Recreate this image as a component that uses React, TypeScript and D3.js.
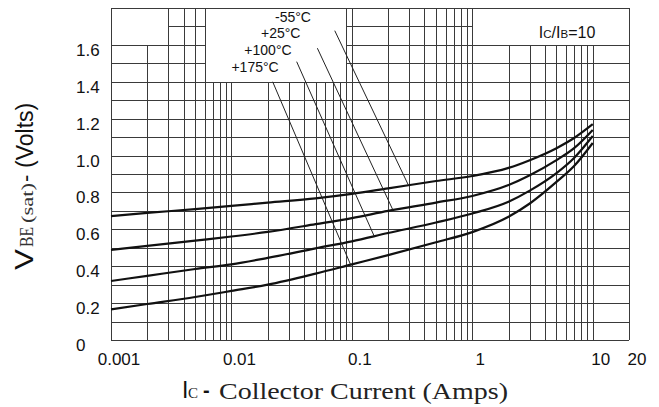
import React from "react";
import * as d3 from "d3";

// ---- data ----
const currents = [0.001, 0.002, 0.005, 0.01, 0.02, 0.05, 0.1, 0.2, 0.5, 1, 2, 3, 5, 7, 10];
const vbeM55 = [0.672, 0.689, 0.71, 0.727, 0.745, 0.768, 0.792, 0.822, 0.862, 0.889, 0.933, 0.975, 1.04, 1.095, 1.17];
const vbe25 = [0.488, 0.51, 0.539, 0.561, 0.586, 0.628, 0.661, 0.7, 0.745, 0.781, 0.84, 0.893, 0.975, 1.04, 1.139];
const vbe100 = [0.32, 0.348, 0.385, 0.41, 0.445, 0.497, 0.535, 0.58, 0.637, 0.686, 0.75, 0.81, 0.905, 0.987, 1.106];
const vbe175 = [0.166, 0.195, 0.233, 0.266, 0.3, 0.36, 0.41, 0.46, 0.53, 0.585, 0.668, 0.74, 0.857, 0.943, 1.068];
const seriesNames = ["-55°C", "+25°C", "+100°C", "+175°C"];
const seriesValues = [vbeM55, vbe25, vbe100, vbe175];

// label anchor (text start) in data units
const labelX = [0.023, 0.0176, 0.0128, 0.01];
const labelY = [1.726, 1.639, 1.545, 1.455];
// leader lines: from (startX,startY) to (endX, on curve)
const leaderStartX = [0.0721, 0.0517, 0.0348, 0.022];
const leaderStartY = [1.677, 1.582, 1.509, 1.4];
const leaderEndX = [0.294, 0.218, 0.153, 0.0975];
const leaderEndY = [0.841, 0.708, 0.564, 0.409];

const xTickValues = [0.001, 0.01, 0.1, 1, 10, 20];
const xTickLabels = ["0.001", "0.01", "0.1", "1", "10", "20"];
const yTickValues = [0, 0.2, 0.4, 0.6, 0.8, 1.0, 1.2, 1.4, 1.6];
const yTickLabels = ["0", "0.2", "0.4", "0.6", "0.8", "1.0", "1.2", "1.4", "1.6"];

const decades = [0.001, 0.01, 0.1, 1];
const multipliers = [1, 2, 3, 4, 5, 6, 7, 8, 9];
const hGridValues = d3.range(0, 19).map((i) => i / 10);

// blank (label) boxes in data units
const boxX0 = [0.001, 0.006, 1];
const boxX1 = [0.003, 0.09, 20];
const boxY0 = [1.6, 1.4, 1.6];
const boxY1 = [1.8, 1.8, 1.8];

export default function App() {
  const x = d3.scaleLog().domain([0.001, 20]).range([111, 629]);
  const y = d3.scaleLinear().domain([0, 1.8]).range([340, 8]);
  const cx = (v: number) => Math.round(x(v)) + 0.5;
  const cy = (v: number) => Math.round(y(v)) + 0.5;

  const vGridValues: number[] = [];
  decades.forEach((d) => multipliers.forEach((m) => vGridValues.push(+(d * m).toPrecision(3))));
  vGridValues.push(10, 20);

  const line = d3
    .line<number>()
    .x((_, i) => x(currents[i]))
    .y((v) => y(v))
    .curve(d3.curveMonotoneX);

  const sans = "'Liberation Sans', Arial, sans-serif";
  const serif = "'Liberation Serif', 'Times New Roman', serif";
  const gridColor = "#3a3a3a";

  return (
    <svg width={659} height={407} style={{ position: "absolute", left: 0, top: 0, background: "#fff" }}>
      <rect x={0} y={0} width={659} height={407} fill="#fff" />
      <g shapeRendering="crispEdges">
        {hGridValues.map((v, i) => (
          <line key={"h" + i} x1={x(0.001)} x2={x(20)} y1={cy(v)} y2={cy(v)} stroke={gridColor} strokeWidth={1} />
        ))}
        {vGridValues.map((v, i) => (
          <line key={"v" + i} x1={cx(v)} x2={cx(v)} y1={y(1.8)} y2={y(0)} stroke={gridColor} strokeWidth={1} />
        ))}
        {boxX0.map((b, i) => (
          <rect
            key={"b" + i}
            x={cx(b) + 0.5}
            y={cy(boxY1[i]) + 0.5}
            width={cx(boxX1[i]) - cx(b) - 1}
            height={cy(boxY0[i]) - cy(boxY1[i]) - 1}
            fill="#fff"
          />
        ))}
      </g>

      {/* curves */}
      {seriesValues.map((vals, i) => (
        <path key={"c" + i} d={line(vals) || ""} fill="none" stroke="#111" strokeWidth={2.2} />
      ))}

      {/* leader lines */}
      {seriesNames.map((_, i) => (
        <line
          key={"l" + i}
          x1={x(leaderStartX[i])}
          y1={y(leaderStartY[i])}
          x2={x(leaderEndX[i])}
          y2={y(leaderEndY[i])}
          stroke="#222"
          strokeWidth={1}
        />
      ))}

      {/* temperature labels */}
      {seriesNames.map((n, i) => (
        <text key={"t" + i} x={x(labelX[i])} y={y(labelY[i])} fontFamily={sans} fontSize={14} fill="#111">
          {n}
        </text>
      ))}

      {/* Ic/Ib = 10 */}
      <text x={x(10.5)} y={y(1.639)} textAnchor="end" fontFamily={sans} fill="#111">
        <tspan fontSize={16}>I</tspan>
        <tspan fontSize={11.5}>C</tspan>
        <tspan fontSize={16}>/I</tspan>
        <tspan fontSize={11.5}>B</tspan>
        <tspan fontSize={16}>=10</tspan>
      </text>

      {/* y tick labels */}
      {yTickValues.map((v, i) => (
        <text key={"yt" + i} x={76} y={y(v) + 11} fontFamily={sans} fontSize={17} fill="#111">
          {yTickLabels[i]}
        </text>
      ))}

      {/* x tick labels */}
      {xTickValues.map((v, i) => (
        <text key={"xt" + i} x={x(v) + 8} y={365} textAnchor="middle" fontFamily={sans} fontSize={17} fill="#111">
          {xTickLabels[i]}
        </text>
      ))}

      {/* x axis title */}
      <text x={182} y={398} fontFamily={sans} fontSize={23} fill="#111">I</text>
      <text x={188} y={398} fontFamily={serif} fontSize={15} fill="#222">C</text>
      <text x={203} y={397} fontFamily={sans} fontSize={20} fontWeight="bold" fill="#111">-</text>
      <text
        x={219}
        y={399}
        fontFamily={serif}
        fontSize={24}
        textLength={289}
        lengthAdjust="spacingAndGlyphs"
        fill="#222"
      >
        Collector Current (Amps)
      </text>

      {/* y axis title */}
      <g transform="translate(32.5,270) rotate(-90)">
        <text x={0} y={0} fontFamily={sans} fontSize={26} textLength={21} lengthAdjust="spacingAndGlyphs" fill="#111">V</text>
        <text x={23} y={0} fontFamily={serif} fontSize={18} textLength={20} lengthAdjust="spacingAndGlyphs" fill="#333">BE</text>
        <text x={47} y={0} fontFamily={serif} fontSize={17} textLength={40} lengthAdjust="spacingAndGlyphs" fill="#333">(sat)</text>
        <text x={88} y={0} fontFamily={sans} fontSize={22} fill="#111">-</text>
        <text x={102} y={0} fontFamily={sans} fontSize={23} fill="#111">(Volts)</text>
      </g>
    </svg>
  );
}
